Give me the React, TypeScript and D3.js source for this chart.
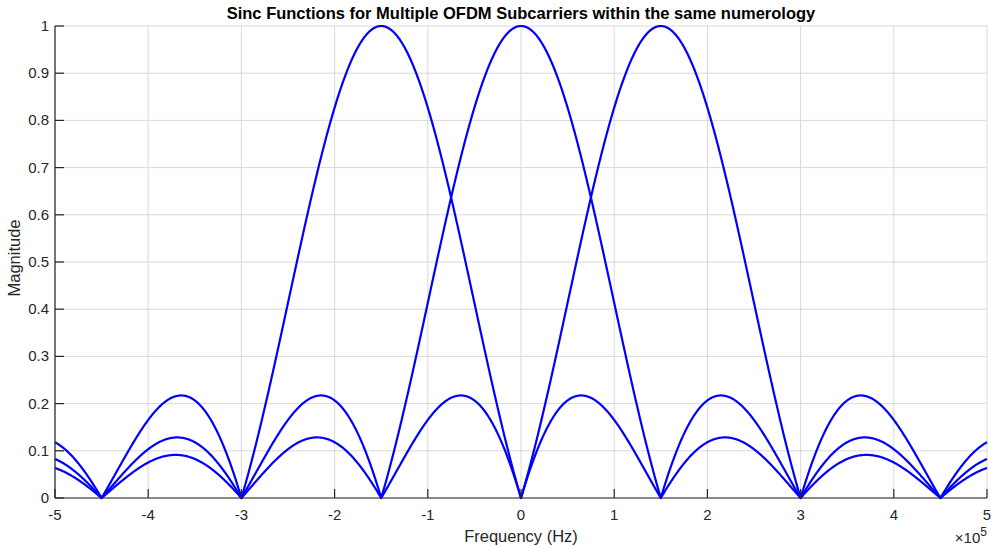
import React from "react";
import * as d3 from "d3";

const subcarrierCenters = [-1.5e5, 0, 1.5e5];
const subcarrierSpacing = 1.5e5;
const xTicks = [-5, -4, -3, -2, -1, 0, 1, 2, 3, 4, 5];
const yTicks = [0, 0.1, 0.2, 0.3, 0.4, 0.5, 0.6, 0.7, 0.8, 0.9, 1];
const xDomain = [-5e5, 5e5];
const yDomain = [0, 1];
const title = "Sinc Functions for Multiple OFDM Subcarriers within the same numerology";

const W = 991, H = 547;
const M = { left: 55, right: 4, top: 26, bottom: 49 };

function sincAbs(x: number) {
  if (Math.abs(x) < 1e-12) return 1;
  return Math.abs(Math.sin(Math.PI * x) / (Math.PI * x));
}

export default function App() {
  const x = d3.scaleLinear().domain(xDomain).range([M.left, W - M.right]);
  const y = d3.scaleLinear().domain(yDomain).range([H - M.bottom, M.top]);
  const freqs = d3.range(-5e5, 5e5 + 1, 500);
  const line = d3.line<[number, number]>().x(d => x(d[0])).y(d => y(d[1]));
  const font = "'Liberation Sans', Arial, Helvetica, sans-serif";
  const x0 = M.left, x1 = W - M.right, y0 = H - M.bottom, y1 = M.top;
  return (
    <svg width={W} height={H} style={{ position: "absolute", left: 0, top: 0, background: "#fff" }} fontFamily={font}>
      <rect x={0} y={0} width={W} height={H} fill="#fff" />
      {xTicks.map(t => (
        <line key={"gx" + t} x1={x(t * 1e5)} x2={x(t * 1e5)} y1={y0} y2={y1} stroke="#d9d9d9" strokeWidth={1} />
      ))}
      {yTicks.map(t => (
        <line key={"gy" + t} x1={x0} x2={x1} y1={y(t)} y2={y(t)} stroke="#d9d9d9" strokeWidth={1} />
      ))}
      {subcarrierCenters.map(c => (
        <path key={"c" + c}
          d={line(freqs.map(f => [f, sincAbs((f - c) / subcarrierSpacing)] as [number, number])) || ""}
          fill="none" stroke="#0000ff" strokeWidth={2.2} strokeLinejoin="round" />
      ))}
      <line x1={x0} x2={x1} y1={y0} y2={y0} stroke="#262626" strokeWidth={1.2} />
      <line x1={x0} x2={x0} y1={y0} y2={y1} stroke="#262626" strokeWidth={1.2} />
      {xTicks.map(t => (
        <g key={"tx" + t}>
          <line x1={x(t * 1e5)} x2={x(t * 1e5)} y1={y0} y2={y0 - 9} stroke="#262626" strokeWidth={1.2} />
          <text x={x(t * 1e5)} y={y0 + 22} fontSize={15} textAnchor="middle" fill="#262626">{t}</text>
        </g>
      ))}
      {yTicks.map(t => (
        <g key={"ty" + t}>
          <line x1={x0} x2={x0 + 9} y1={y(t)} y2={y(t)} stroke="#262626" strokeWidth={1.2} />
          <text x={x0 - 6} y={y(t) + 5} fontSize={15} textAnchor="end" fill="#262626">{t}</text>
        </g>
      ))}
      <text x={(x0 + x1) / 2} y={19} fontSize={16.5} fontWeight="bold" textAnchor="middle" fill="#000">{title}</text>
      <text x={(x0 + x1) / 2} y={542} fontSize={16.5} textAnchor="middle" fill="#262626">Frequency (Hz)</text>
      <text transform={`translate(20,258) rotate(-90)`} fontSize={16.5} textAnchor="middle" fill="#262626">Magnitude</text>
      <text x={987} y={543} fontSize={15} textAnchor="end" fill="#262626">
        ×10<tspan dy={-7} fontSize={12}>5</tspan>
      </text>
    </svg>
  );
}
